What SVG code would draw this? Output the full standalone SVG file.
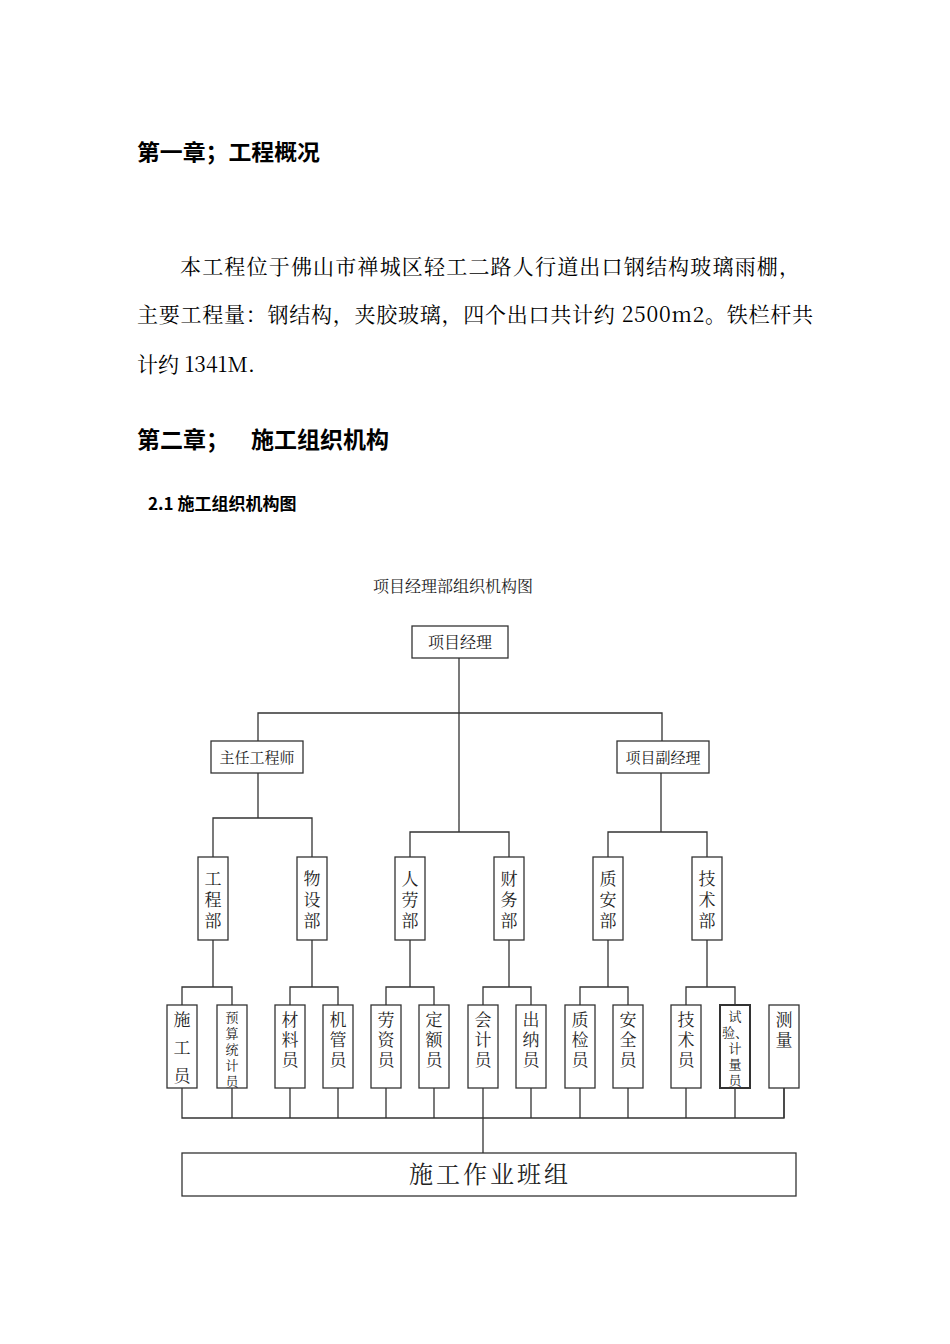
<svg xmlns="http://www.w3.org/2000/svg" width="950" height="1344" viewBox="0 0 950 1344">
<style>
.h{font-family:"Noto Sans CJK SC",sans-serif;font-weight:bold;font-size:22px;fill:#000}
.p{font-family:"Noto Serif CJK SC","Noto Sans CJK SC",serif;font-size:21px;fill:#000}
.t{font-family:"Noto Serif CJK SC","Noto Sans CJK SC",serif;font-size:16px;fill:#222;text-anchor:middle}
.v{font-family:"Noto Serif CJK SC","Noto Sans CJK SC",serif;font-size:17px;fill:#222;text-anchor:middle}
.b{fill:#fff;stroke:#333;stroke-width:1.3}
.c{fill:none;stroke:#333;stroke-width:1.3}
</style>
<rect width="950" height="1344" fill="#fff"/>
<text class="h" x="137" y="160" textLength="183" lengthAdjust="spacingAndGlyphs">第一章；工程概况</text>
<text class="p" x="180" y="274" textLength="620">本工程位于佛山市禅城区轻工二路人行道出口钢结构玻璃雨棚，</text>
<text class="p" x="137" y="322" textLength="676">主要工程量：钢结构，夹胶玻璃，四个出口共计约 2500m2。铁栏杆共</text>
<text class="p" x="137" y="372">计约 1341M.</text>
<text class="h" x="137" y="448" style="font-size:23px">第二章；</text>
<text class="h" x="251" y="448" style="font-size:23px">施工组织机构</text>
<text class="h" x="148" y="510" style="font-size:17px">2.1 施工组织机构图</text>
<text class="t" x="453" y="592">项目经理部组织机构图</text>
<g id="connectors">
<path class="c" d="M459 658V832M258 741V713H662V741M258 773V818M213 857V818H312V857M410 857V832H509V857M661 773V832M608 857V832H707V857"/>
<path class="c" d="M213 940V987M182 1005V987H232V1005M312 940V987M290 1005V987H338V1005M410 940V987M386 1005V987H434V1005M509 940V987M483 1005V987H531V1005M608 940V987M580 1005V987H628V1005M707 940V987M686 1005V987H735V1005"/>
<path class="c" d="M182 1088V1118H784V1088M232 1088V1118M290 1088V1118M338 1088V1118M386 1088V1118M434 1088V1118M483 1088V1153M531 1088V1118M580 1088V1118M628 1088V1118M686 1088V1118M735 1088V1118"/>
</g>
<g id="pm"><rect class="b" x="412" y="626" width="96" height="32"/><text class="t" x="460" y="648">项目经理</text></g>
<g id="ce"><rect class="b" x="211" y="741" width="92" height="32"/><text class="t" x="257" y="763" style="font-size:15px">主任工程师</text></g>
<g id="dpm"><rect class="b" x="617" y="741" width="92" height="32"/><text class="t" x="663" y="763" style="font-size:15px">项目副经理</text></g>
<g id="d1"><rect class="b" x="198" y="857" width="30" height="83"/><text class="v"><tspan x="213" y="885">工</tspan><tspan x="213" y="906">程</tspan><tspan x="213" y="927">部</tspan></text></g>
<g id="d2"><rect class="b" x="297" y="857" width="30" height="83"/><text class="v"><tspan x="312" y="885">物</tspan><tspan x="312" y="906">设</tspan><tspan x="312" y="927">部</tspan></text></g>
<g id="d3"><rect class="b" x="395" y="857" width="30" height="83"/><text class="v"><tspan x="410" y="885">人</tspan><tspan x="410" y="906">劳</tspan><tspan x="410" y="927">部</tspan></text></g>
<g id="d4"><rect class="b" x="494" y="857" width="30" height="83"/><text class="v"><tspan x="509" y="885">财</tspan><tspan x="509" y="906">务</tspan><tspan x="509" y="927">部</tspan></text></g>
<g id="d5"><rect class="b" x="593" y="857" width="30" height="83"/><text class="v"><tspan x="608" y="885">质</tspan><tspan x="608" y="906">安</tspan><tspan x="608" y="927">部</tspan></text></g>
<g id="d6"><rect class="b" x="692" y="857" width="30" height="83"/><text class="v"><tspan x="707" y="885">技</tspan><tspan x="707" y="906">术</tspan><tspan x="707" y="927">部</tspan></text></g>
<g id="s1"><rect class="b" x="167" y="1005" width="30" height="83"/><text class="v"><tspan x="182" y="1026">施</tspan><tspan x="182" y="1054">工</tspan><tspan x="182" y="1082">员</tspan></text></g>
<g id="s2"><rect class="b" x="217" y="1005" width="30" height="83"/><text class="v" style="font-size:13px"><tspan x="232" y="1022">预</tspan><tspan x="232" y="1038">算</tspan><tspan x="232" y="1054">统</tspan><tspan x="232" y="1070">计</tspan><tspan x="232" y="1086">员</tspan></text></g>
<g id="s3"><rect class="b" x="275" y="1005" width="30" height="83"/><text class="v"><tspan x="290" y="1026">材</tspan><tspan x="290" y="1046">料</tspan><tspan x="290" y="1066">员</tspan></text></g>
<g id="s4"><rect class="b" x="323" y="1005" width="30" height="83"/><text class="v"><tspan x="338" y="1026">机</tspan><tspan x="338" y="1046">管</tspan><tspan x="338" y="1066">员</tspan></text></g>
<g id="s5"><rect class="b" x="371" y="1005" width="30" height="83"/><text class="v"><tspan x="386" y="1026">劳</tspan><tspan x="386" y="1046">资</tspan><tspan x="386" y="1066">员</tspan></text></g>
<g id="s6"><rect class="b" x="419" y="1005" width="30" height="83"/><text class="v"><tspan x="434" y="1026">定</tspan><tspan x="434" y="1046">额</tspan><tspan x="434" y="1066">员</tspan></text></g>
<g id="s7"><rect class="b" x="468" y="1005" width="30" height="83"/><text class="v"><tspan x="483" y="1026">会</tspan><tspan x="483" y="1046">计</tspan><tspan x="483" y="1066">员</tspan></text></g>
<g id="s8"><rect class="b" x="516" y="1005" width="30" height="83"/><text class="v"><tspan x="531" y="1026">出</tspan><tspan x="531" y="1046">纳</tspan><tspan x="531" y="1066">员</tspan></text></g>
<g id="s9"><rect class="b" x="565" y="1005" width="30" height="83"/><text class="v"><tspan x="580" y="1026">质</tspan><tspan x="580" y="1046">检</tspan><tspan x="580" y="1066">员</tspan></text></g>
<g id="s10"><rect class="b" x="613" y="1005" width="30" height="83"/><text class="v"><tspan x="628" y="1026">安</tspan><tspan x="628" y="1046">全</tspan><tspan x="628" y="1066">员</tspan></text></g>
<g id="s11"><rect class="b" x="671" y="1005" width="30" height="83"/><text class="v"><tspan x="686" y="1026">技</tspan><tspan x="686" y="1046">术</tspan><tspan x="686" y="1066">员</tspan></text></g>
<g id="s12"><rect class="b" x="720" y="1005" width="30" height="83" style="stroke-width:2"/><text class="v" style="font-size:13px"><tspan x="735" y="1021">试</tspan><tspan x="735" y="1037">验、</tspan><tspan x="735" y="1053">计</tspan><tspan x="735" y="1069">量</tspan><tspan x="735" y="1085">员</tspan></text></g>
<g id="s13"><rect class="b" x="769" y="1005" width="30" height="83"/><text class="v"><tspan x="784" y="1026">测</tspan><tspan x="784" y="1046">量</tspan></text></g>
<path class="c" d="M784 1088V1118"/>
<g id="team"><rect class="b" x="182" y="1153" width="614" height="43"/><text class="t" x="490" y="1183" style="font-size:24px;letter-spacing:3px">施工作业班组</text></g>
</svg>
